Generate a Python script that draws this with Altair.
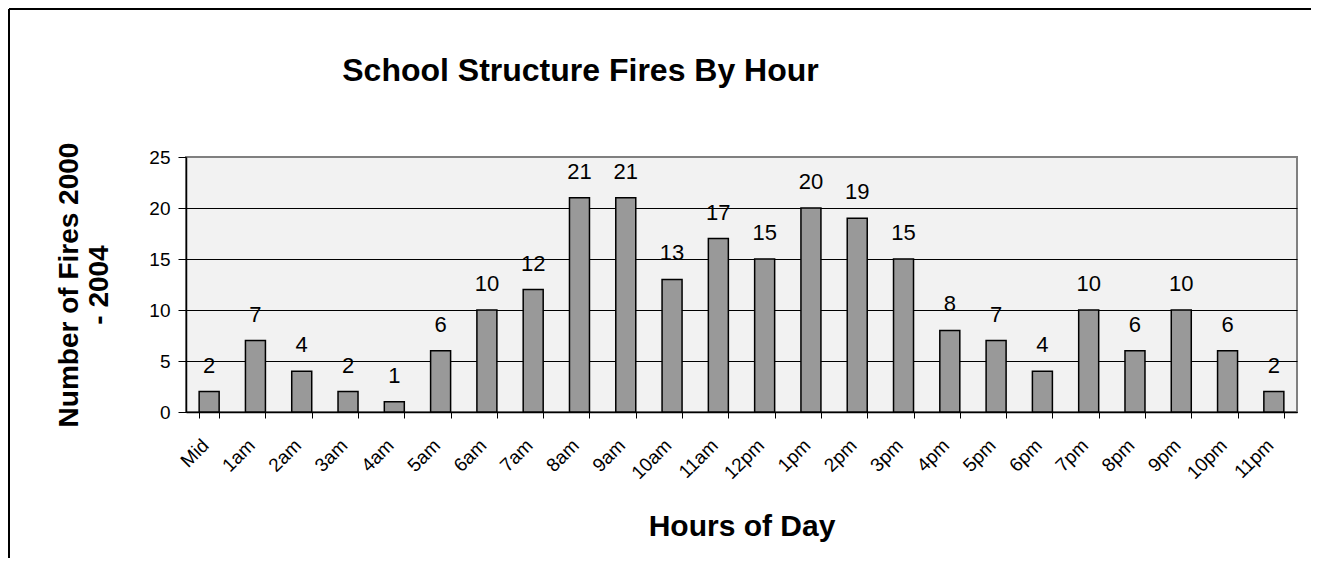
import altair as alt
import pandas as pd

hours = ["Mid", "1am", "2am", "3am", "4am", "5am", "6am", "7am", "8am", "9am", "10am", "11am",
         "12pm", "1pm", "2pm", "3pm", "4pm", "5pm", "6pm", "7pm", "8pm", "9pm", "10pm", "11pm"]
fires = [2, 7, 4, 2, 1, 6, 10, 12, 21, 21, 13, 17, 15, 20, 19, 15, 8, 7, 4, 10, 6, 10, 6, 2]
y_ticks = [0, 5, 10, 15, 20, 25]

df = pd.DataFrame({"hour": hours, "fires": fires})
FONT = "Liberation Sans"
W, H = 1111, 255

x = alt.X("hour:N", sort=hours,
          scale=alt.Scale(paddingInner=0.568, paddingOuter=0.284),
          axis=alt.Axis(title="Hours of Day", titleFont=FONT, titleFontSize=30,
                        titleFontWeight="bold", titleColor="black",
                        titleY=114, titleBaseline="middle",
                        labelFont=FONT, labelFontSize=19, labelColor="black",
                        labelAngle=-45, labelAlign="right", labelBaseline="middle",
                        labelPadding=24, labelOffset=-4, tickBand="extent", tickColor="black",
                        tickSize=6, domainColor="black", domainWidth=1.5, grid=False))
y = alt.Y("fires:Q", scale=alt.Scale(domain=[0, 25], nice=False),
          axis=alt.Axis(title=["Number of Fires 2000", "- 2004"], titleFont=FONT,
                        titleFontSize=28, titleFontWeight="bold", titleColor="black",
                        titleAngle=-90, titleX=-117, titleY=127.5, titleAlign="center",
                        titleBaseline="middle", titleLineHeight=30,
                        values=y_ticks, labelFont=FONT, labelFontSize=19,
                        labelColor="black", labelPadding=8, tickColor="black", tickSize=8,
                        domainColor="black", domainWidth=1.5,
                        grid=True, gridWidth=1,
                        gridColor={"condition": {"test": "datum.value == 25", "value": "#808080"},
                                   "value": "black"}))

bars = alt.Chart(df).mark_bar(color="#999999", stroke="black", strokeWidth=1.5).encode(x=x, y=y)
labels = alt.Chart(df).mark_text(font=FONT, fontSize=22, color="black",
                                 baseline="alphabetic", dy=-19).encode(
    x=alt.X("hour:N", sort=hours), y="fires:Q", text="fires:Q")

one = pd.DataFrame({"a": [0]})
frame_top = alt.Chart(one).mark_rule(color="black", strokeWidth=2).encode(
    x=alt.value(-177), x2=alt.value(W + 14), y=alt.value(-148))
frame_left = alt.Chart(one).mark_rule(color="black", strokeWidth=2).encode(
    x=alt.value(-177), y=alt.value(-148), y2=alt.value(H + 146))

chart = alt.layer(frame_top, frame_left, bars, labels).properties(
    width=W, height=H,
    title=alt.TitleParams("School Structure Fires By Hour", font=FONT, fontSize=32,
                          fontWeight="bold", color="black", anchor="middle",
                          baseline="middle", offset=0, dx=-161, dy=95),
    padding=0,
).configure_view(fill="#f2f2f2", stroke="#808080", strokeWidth=2)

chart.save("out.html", embed_options={"renderer": "svg", "actions": False})
